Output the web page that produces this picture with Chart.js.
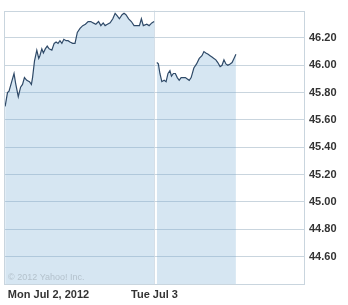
<!DOCTYPE html>
<html>
<head>
<meta charset="utf-8">
<script src="https://cdn.jsdelivr.net/npm/chart.js@4.4.1/dist/chart.umd.min.js"></script>
<style>
  body { margin: 0; background: #fff; }
  #wrap { width: 348px; height: 305px; position: relative; }
</style>
</head>
<body>
<div id="wrap"><canvas id="chart"></canvas></div>
<script>
// minutes after the 9:30 open, day 2 is offset by a full session (390 min)
const day1Minutes = [3, 9, 13, 20, 26, 30, 37, 43, 48, 53, 59, 66, 71, 74, 79, 85, 90, 93, 98, 102,
    107, 112, 117, 124, 130, 135, 140, 145, 150, 155, 161, 166, 171, 178, 184, 190, 197, 204, 211, 218,
    225, 231, 238, 245, 251, 257, 262, 268, 275, 282, 288, 294, 299, 306, 311, 316, 323, 330, 337, 344,
    351, 356, 361, 370, 376, 383, 389];
const day1Prices = [45.70, 45.80, 45.81, 45.88, 45.94, 45.87, 45.77, 45.84, 45.86, 45.91, 45.89, 45.88, 45.86, 45.91, 46.03, 46.11, 46.05, 46.07, 46.12, 46.09,
    46.12, 46.14, 46.12, 46.11, 46.16, 46.17, 46.16, 46.18, 46.16, 46.19, 46.18, 46.18, 46.17, 46.16, 46.16, 46.24, 46.27, 46.29, 46.30, 46.32,
    46.32, 46.31, 46.30, 46.32, 46.29, 46.31, 46.29, 46.30, 46.31, 46.34, 46.38, 46.36, 46.34, 46.37, 46.38, 46.37, 46.34, 46.32, 46.29, 46.29,
    46.29, 46.34, 46.29, 46.30, 46.29, 46.31, 46.32];

const day2Minutes = [396, 400, 404, 409, 415, 420, 425, 430, 434, 439, 444, 449, 454, 459, 465, 470, 475, 480, 485, 492,
    499, 506, 513, 518, 523, 529, 534, 539, 544, 549, 554, 560, 565, 570, 575, 580, 586, 591, 596, 601];
const day2Prices = [46.02, 46.01, 45.94, 45.88, 45.89, 45.88, 45.94, 45.96, 45.92, 45.94, 45.94, 45.91, 45.89, 45.91, 45.91, 45.91, 45.90, 45.89, 45.91, 45.98,
    46.01, 46.05, 46.07, 46.10, 46.09, 46.08, 46.07, 46.06, 46.05, 46.04, 46.02, 45.99, 46.00, 46.04, 46.01, 46.00, 46.01, 46.02, 46.05, 46.08];

const xTickValues = [10, 390, 780];
const xTickLabels = ['Mon Jul 2, 2012', 'Tue Jul 3', ''];
const yTickValues = [44.6, 44.8, 45.0, 45.2, 45.4, 45.6, 45.8, 46.0, 46.2];

function toPoints(times, prices) {
    return times.map((t, i) => ({ x: t, y: prices[i] }));
}

const lineColor = '#2f4a68';
const fillColor = 'rgba(118, 172, 212, 0.3)';
const gridColor = '#c9d5de';
const tickFont = { family: "'Liberation Sans', Arial, sans-serif", size: 11, weight: 'bold' };

// frame around the plot and the small copyright note
const framePlugin = {
    id: 'frame',
    afterDatasetsDraw(chart) {
        const ctx = chart.ctx;
        const a = chart.chartArea;
        ctx.save();
        ctx.fillStyle = '#b4c2cc';
        ctx.font = "9px 'Liberation Sans', Arial, sans-serif";
        ctx.textBaseline = 'alphabetic';
        ctx.fillText('\u00a9 2012 Yahoo! Inc.', a.left + 4, a.bottom - 4);
        ctx.restore();
    },
    afterDraw(chart) {
        const ctx = chart.ctx;
        const a = chart.chartArea;
        ctx.save();
        ctx.strokeStyle = gridColor;
        ctx.lineWidth = 1;
        ctx.strokeRect(Math.round(a.left) + 0.5, Math.round(a.top) + 0.5,
            Math.round(a.right - a.left) - 1, Math.round(a.bottom - a.top));
        ctx.restore();
    }
};

const dayStyle = {
    borderColor: lineColor,
    backgroundColor: fillColor,
    borderWidth: 1.2,
    pointRadius: 0,
    tension: 0,
    fill: 'start'
};

new Chart(document.getElementById('chart'), {
    type: 'line',
    data: {
        datasets: [
            Object.assign({ label: 'Jul 2', data: toPoints(day1Minutes, day1Prices) }, dayStyle),
            Object.assign({ label: 'Jul 3', data: toPoints(day2Minutes, day2Prices) }, dayStyle)
        ]
    },
    options: {
        responsive: true,
        maintainAspectRatio: false,
        animation: false,
        layout: { padding: { left: 4, top: 4, right: 0, bottom: 0 } },
        plugins: {
            legend: { display: false },
            tooltip: { enabled: false }
        },
        scales: {
            x: {
                type: 'linear',
                min: 0,
                max: 780,
                afterBuildTicks: scale => { scale.ticks = xTickValues.map(v => ({ value: v })); },
                afterFit: scale => { scale.height = 21; },
                border: { display: false },
                grid: {
                    drawTicks: false,
                    color: ctx => (ctx.tick && ctx.tick.value === 390) ? '#d6e0e8' : 'rgba(0,0,0,0)'
                },
                ticks: {
                    autoSkip: false,
                    maxRotation: 0,
                    align: 'inner',
                    padding: 4,
                    color: '#333',
                    font: tickFont,
                    callback: (value, index) => xTickLabels[index]
                }
            },
            y: {
                position: 'right',
                min: 44.4,
                max: 46.4,
                afterBuildTicks: scale => { scale.ticks = yTickValues.map(v => ({ value: v })); },
                afterFit: scale => { scale.width = 43; },
                border: { display: false },
                grid: { drawTicks: false, color: gridColor },
                ticks: {
                    padding: 4,
                    color: '#333',
                    font: tickFont,
                    callback: value => value.toFixed(2)
                }
            }
        }
    },
    plugins: [framePlugin]
});
</script>
</body>
</html>
